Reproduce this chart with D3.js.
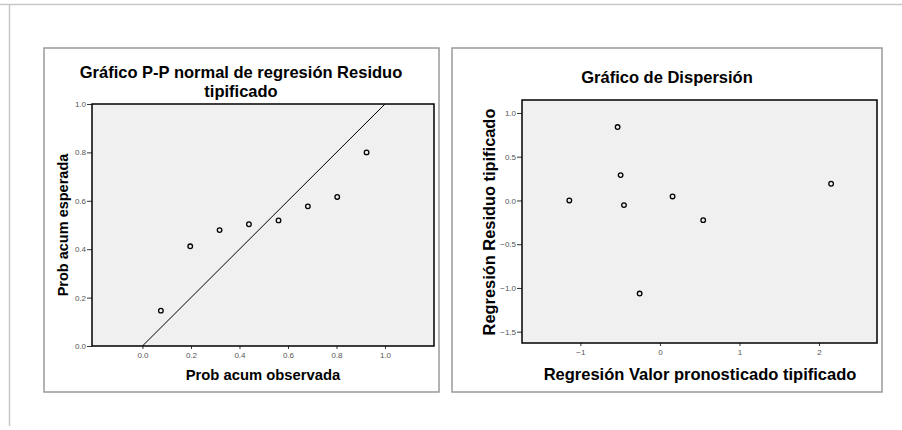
<!DOCTYPE html>
<html><head><meta charset="utf-8">
<script src="https://cdn.jsdelivr.net/npm/d3@7"></script>
<style>
body{margin:0;background:#fff;}
text{font-family:"Liberation Sans",Arial,sans-serif;}
</style></head>
<body><svg id="c" width="902" height="430"></svg>
<script>
// Left chart: P-P plot
const ppTitle = ["Gráfico P-P normal de regresión Residuo", "tipificado"];
const ppObserved = [0.076, 0.197, 0.318, 0.439, 0.561, 0.682, 0.803, 0.924];
const ppExpected = [0.146, 0.412, 0.479, 0.503, 0.519, 0.577, 0.616, 0.800];
const ppXTicks = [0.0, 0.2, 0.4, 0.6, 0.8, 1.0];
const ppYTicks = [0.0, 0.2, 0.4, 0.6, 0.8, 1.0];
const ppXLabel = "Prob acum observada";
const ppYLabel = "Prob acum esperada";

// Right chart: scatter
const scTitle = "Gráfico de Dispersión";
const scPredicted = [-0.532, -0.494, -1.139, -0.452, 0.159, 0.544, -0.255, 2.152];
const scResidual = [0.839, 0.290, 0.000, -0.053, 0.046, -0.225, -1.064, 0.191];
const scXTicks = [-1, 0, 1, 2];
const scYTicks = [1.0, 0.5, 0.0, -0.5, -1.0, -1.5];
const scXLabel = "Regresión Valor pronosticado tipificado";
const scYLabel = "Regresión Residuo tipificado";

const svg = d3.select("#c");

// outer frame lines
svg.append("line").attr("x1",0).attr("x2",902).attr("y1",4.5).attr("y2",4.5).attr("stroke","#c8c8c8").attr("stroke-width",1.5);
svg.append("line").attr("x1",9.5).attr("x2",9.5).attr("y1",4.5).attr("y2",426).attr("stroke","#c8c8c8").attr("stroke-width",1.5);

function styleAxis(g){
  g.select(".domain").remove();
  g.selectAll(".tick line").attr("stroke","#333").attr("stroke-width",1);
  g.selectAll(".tick text").attr("fill","#555").style("font-size","8px").style("font-family","'Liberation Sans',Arial,sans-serif");
}

function panel(box, plot, xDom, yDom, xTicks, yTicks, xFmt, yFmt){
  svg.append("rect").attr("x",box.x).attr("y",box.y).attr("width",box.w).attr("height",box.h)
    .attr("fill","#fff").attr("stroke","#9a9a9a").attr("stroke-width",1.5);
  const x = d3.scaleLinear().domain(xDom).range([plot.x0, plot.x1]);
  const y = d3.scaleLinear().domain(yDom).range([plot.y1, plot.y0]);
  svg.append("rect").attr("x",plot.x0).attr("y",plot.y0).attr("width",plot.x1-plot.x0).attr("height",plot.y1-plot.y0)
    .attr("fill","#f0f0f0");
  const gx = svg.append("g").attr("transform",`translate(0,${plot.y1})`)
    .call(d3.axisBottom(x).tickValues(xTicks).tickFormat(xFmt).tickSize(3).tickPadding(3));
  styleAxis(gx);
  const gy = svg.append("g").attr("transform",`translate(${plot.x0},0)`)
    .call(d3.axisLeft(y).tickValues(yTicks).tickFormat(yFmt).tickSize(5).tickPadding(1));
  styleAxis(gy);
  return {x, y};
}

function drawBorder(plot){
  svg.append("rect").attr("x",plot.x0).attr("y",plot.y0).attr("width",plot.x1-plot.x0).attr("height",plot.y1-plot.y0)
    .attr("fill","none").attr("stroke","#000").attr("stroke-width",1.5);
}

// ---- Left panel
const lp = {x0:92, x1:434, y0:104, y1:346};
const L = panel({x:44,y:48,w:395,h:344}, lp, [-0.208,1.202], [0,1], ppXTicks, ppYTicks, d3.format(".1f"), d3.format(".1f"));
svg.append("defs").append("clipPath").attr("id","clipL").append("rect")
  .attr("x",lp.x0).attr("y",lp.y0).attr("width",lp.x1-lp.x0).attr("height",lp.y1-lp.y0);
svg.append("line").attr("clip-path","url(#clipL)")
  .attr("x1",L.x(0)).attr("y1",L.y(0)).attr("x2",L.x(1.2)).attr("y2",L.y(1.2))
  .attr("stroke","#000").attr("stroke-width",1);
svg.append("g").selectAll("circle").data(ppObserved).join("circle")
  .attr("cx",d=>L.x(d)).attr("cy",(d,i)=>L.y(ppExpected[i])).attr("r",2.3)
  .attr("fill","none").attr("stroke","#000").attr("stroke-width",1.3);
drawBorder(lp);
const t1 = svg.append("text").attr("text-anchor","middle").style("font-size","16.5px").style("font-weight","bold");
t1.selectAll("tspan").data(ppTitle).join("tspan")
  .attr("x",241).attr("y",(d,i)=>78+i*19).text(d=>d);
svg.append("text").attr("x",263).attr("y",380).attr("text-anchor","middle").style("font-size","14.8px").style("font-weight","bold").text(ppXLabel);
svg.append("text").attr("transform","translate(68,225) rotate(-90)").attr("text-anchor","middle").style("font-size","14.5px").style("font-weight","bold").text(ppYLabel);

// ---- Right panel
const rp = {x0:522, x1:877, y0:100, y1:343};
const R = panel({x:452,y:48,w:430,h:344}, rp, [-1.734,2.729], [-1.629,1.148], scXTicks, scYTicks, d3.format("d"), d3.format(".1f"));
svg.append("g").selectAll("circle").data(scPredicted).join("circle")
  .attr("cx",d=>R.x(d)).attr("cy",(d,i)=>R.y(scResidual[i])).attr("r",2.3)
  .attr("fill","none").attr("stroke","#000").attr("stroke-width",1.3);
drawBorder(rp);
svg.append("text").attr("x",667).attr("y",83).attr("text-anchor","middle").style("font-size","16.5px").style("font-weight","bold").text(scTitle);
svg.append("text").attr("x",700).attr("y",380).attr("text-anchor","middle").style("font-size","16.5px").style("font-weight","bold").text(scXLabel);
svg.append("text").attr("transform","translate(495,222) rotate(-90)").attr("text-anchor","middle").style("font-size","16.4px").style("font-weight","bold").text(scYLabel);
</script></body></html>
